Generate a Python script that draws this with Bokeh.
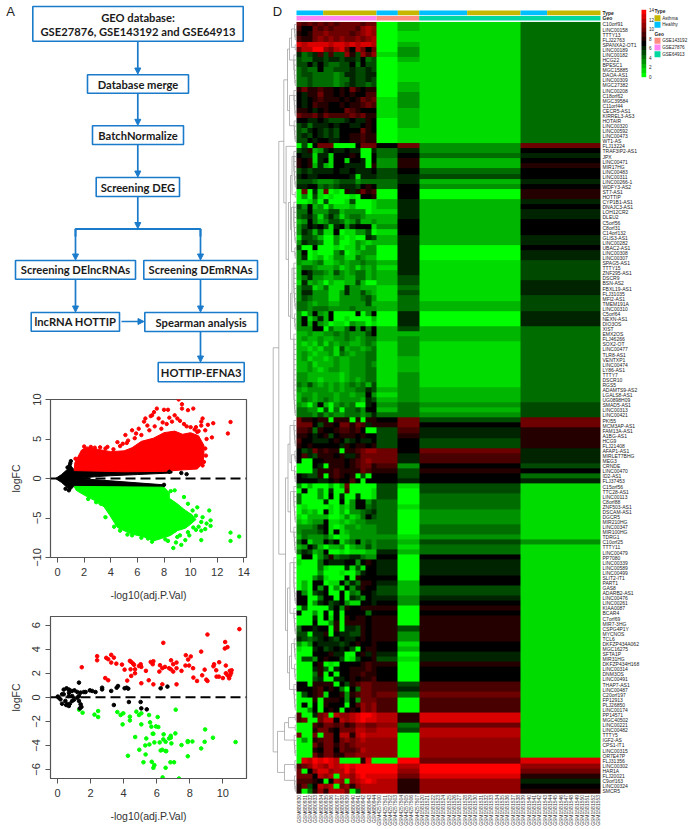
from bokeh.plotting import figure
from bokeh.layouts import row, column
from bokeh.models import Range1d, FixedTicker, Label, Span, LinearColorMapper, Arrow, NormalHead
from bokeh.core.properties import value
from bokeh.embed import file_html
from bokeh.resources import INLINE
import numpy as np, math

# ---------- panel A ----------
BOX_TEXT = ["GEO database:\nGSE27876, GSE143192 and GSE64913", "Database merge", "BatchNormalize", "Screening DEG",
            "Screening DElncRNAs", "Screening DEmRNAs", "lncRNA HOTTIP", "Spearman analysis", "HOTTIP-EFNA3"]
BOX_L = [32.3, 87, 92, 95.7, 15, 143.3, 30.7, 144.3, 157.7]
BOX_R = [242.7, 188, 183, 179, 135, 257, 119, 257, 243.7]
BOX_T = [6, 74.3, 125.3, 177, 260, 260, 312, 312, 362]
BOX_B = [40.7, 92.7, 144, 196, 278.7, 278.7, 330.7, 331, 381.3]
ARR = [(137.3,41,73.5),(137.3,92.7,124.8),(137.3,144,176.5),(137.3,196,228),(75,228.5,259.5),(200,228.5,259.5),
       (75,279,311.5),(200,279,311.5),(200,331,361.5)]

# ---------- panel B (logFC vs -log10 adj.P) ----------
B_RED_X = [1.25,1.3,1.8,2.2,3,4,5,5.6,6.3,7.2,8,8.8,9.4,10,10.6,11,11,10.9,10.5,9.5,8,5]
B_RED_Y = [1.0,2.0,3.6,4.0,3.7,3.4,3.5,3.9,4.7,5.1,5.8,6,5.6,5.8,5.4,4.2,2.8,1.9,1.2,1.1,.9,.85]
B_GREEN_X = [1.25,8,8.4,8.4,9,9.5,10.1,10.4,10,9.6,9,8.5,7.8,7.2,6.5,5.5,4.5,3.9,3.5,2.8,2,1.4]
B_GREEN_Y = [-1,-1.1,-1.8,-2.5,-3.2,-3.9,-4.6,-5.2,-5.8,-6.3,-6.6,-7.2,-7.6,-7.9,-7.4,-7,-6.2,-4.6,-3.6,-2.8,-2.1,-1.5]
B_FUNNEL_X = [-.15,.3,.7,1.0,1.25,1.25,.95,.7,.3]
B_FUNNEL_Y = [0,.5,1.1,1.6,1.1,-.95,-1.5,-1.1,-.5]
B_UP_X = [1.2,8.6,8.6,6,4,3,2,1.2]
B_UP_Y = [1,.95,.7,.5,.35,.25,.1,-.1]
B_LO_X = [1.2,8,8,6,4,2,1.2]
B_LO_Y = [-1,-1.1,-.8,-.55,-.3,-.05,.1]
B_RED_PX = [9.1,9.35,9.35,9.8,10.2,7.46,7.25,8,8.3,6.6,7,7.1,7.6,8.4,8.8,9,10.9,10.8,11.3,11.7,13,12.8,11.6,11.2,11.1,10.8,10.4,10,5.1,5.6,5.9,6.1,6.5,6.75,4.9,4.5,3.75,11.1,11.15,11,10.9,2,2.5,1.35,1.7,7.9,8.2,8.6,9.5,9.7,6.9,7.3,7.8,6.3,5.3,5.8,4.7,5.2,10.3,10.6,9.2,10.5,3.2,2.8,3.6,4.2]
B_RED_PY = [10,9.4,8.85,8.65,8.85,8.85,8.4,8.7,8.7,7.6,7.9,8,7.6,7.7,8,7.6,7.6,7.2,6.8,7,7.15,5.7,5.2,5,6.1,6.7,6.5,6.5,5.5,6.1,5.7,6.3,7.2,6.7,4.4,4.6,4,3.8,2.9,2.1,1.65,4.05,4,2.5,2.7,7.1,6.9,7.2,6.9,6.6,6.1,6.6,6.3,5.5,4.8,5.1,4.1,4.5,6.2,6,7.3,5.9,3.95,3.9,3.8,3.7]
B_GREEN_PX = [8.7,9.3,8.9,10.8,9.6,13,13,13.65,11.4,11.5,11.5,11.1,10.8,10.5,10.15,9.5,9.8,8.8,8.5,2.3,3.25,3.9,4.25,5.25,10.8,10,10.4,8.8,8.3,7.1,9.2,9.8,10.2,10.9,11.2,9,9.4,8.1,6.8,6.3,5.6,4.7,3.6,2.9,10.6,10.4,9.9,8.6]
B_GREEN_PY = [-8.8,-8.4,-8.1,-7.8,-7.8,-6.85,-7.9,-7.35,-4.05,-5.3,-6,-6.4,-6.6,-3.65,-4.05,-2.35,-3.2,-1.5,-1.6,-2.6,-3.2,-4,-6.1,-7.1,-5.5,-4.7,-4.7,-6.6,-7.9,-8,-7.2,-6.8,-6.2,-4.9,-5.7,-7.4,-5.4,-7.7,-7.6,-7.5,-7.2,-6.6,-4.9,-3,-6.1,-6.5,-7.2,-5.9]
B_BLACK_PX = [1,.95,.85,9.3,9.7,8,.9,.75,8.4,.6]
B_BLACK_PY = [2.2,1.9,-1.5,.7,.55,-.8,1.6,1.4,.85,-1.3]

# ---------- panel C ----------
C_RED_X = [1.47,2.4,2.4,2.95,3.07,3.25,3.41,3.25,3.56,3.9,4.06,4.38,4.46,4.57,4.63,4.42,4.69,4.69,4.46,4.22,2.89,3.07,4.93,5.03,5.07,5.35,5.64,5.8,5.76,5.07,5.52,5.8,6.2,6.16,6.4,6.34,6.5,6.34,6.75,6.87,6.85,7,7,7.2,7.2,7.2,7.5,7.76,7.74,7.9,7.96,8.06,8.2,8.22,8.44,8.69,8.75,8.9,9,9.07,9.07,9.47,9.43,9.6,9.62,9.78,9.76,10,10.14,10.12,10.28,10.18,10.18,10.28,10.42,10.44,10.38,10.5,10.53,11]
C_RED_Y = [2.5,3.42,3.08,3.28,3.17,3.53,3.3,2.89,2.8,2.72,2.3,3.03,2.94,2.8,2.7,2.33,2.33,2,1.78,1.39,1.6,1.42,2.6,2.75,2.53,2.2,2.94,3,2.75,1.17,1.42,1.08,2.67,2.14,4.53,2.42,2.53,1.08,2.42,3.08,2.33,2.75,2.14,2.89,2.42,1.08,2.2,3.5,2.64,3.14,2.64,3.4,2.42,1.64,1.36,3.8,1.83,2.3,1.47,5.22,1.36,2.75,2.58,2.25,1.72,2.92,1.72,1.6,4.6,4.06,4.17,2.64,2,1.83,2.2,1.83,1.58,2.03,2.25,5.67]
C_BLACK_X = [.02,.28,.38,.55,.7,.87,1.03,1.2,1.3,1.4,1.6,1.7,1.96,2.1,2.3,2.7,2.7,3.25,3.58,3.66,4.06,4.18,4.28,6.24,6.65,3.41,4.32,5.03,5.07,5.4,.08,.18,.28,.48,.58,.69,.53,.75,.89,1,1.3,1.4,1.45,1.35,.69,.89,1.2,1.3,.7,.38]
C_BLACK_Y = [.06,.25,.64,.75,.64,.53,.58,.44,1.22,.39,.44,.44,.58,.53,.44,.8,.66,.53,.8,.94,.75,.8,.72,.75,.89,-.64,-.39,-.39,-.92,-1,-.03,-.17,-.53,-.3,-.58,-.72,-.64,-.53,-.3,-.2,-.3,-.58,-.8,-.92,.11,.11,-.03,.11,.39,.25]
C_GREEN_X = [1.31,1.52,2.46,2.24,2.46,3.62,3.82,3.98,3.94,4.38,4.38,4.77,4.93,5.07,5.54,5.07,5.6,5.68,6.06,5.96,6.1,7.15,4.7,5.37,5.76,5.8,6.42,6.75,6.85,6.85,7.13,6.4,6.54,6.18,5.86,5.56,5.31,6.89,7.5,7.88,7.88,8.16,8.69,8.93,8.9,9.4,10.77,4.26,4.95,5.33,5.2,5.7,5.86,5.8,6.24,6.34,6.54,6.58,6.54,6.83,7.05,7.88,6.36,7.35]
C_GREEN_Y = [-1.03,-1.28,-1.14,-1.44,-1.64,-1.22,-1.47,-1.33,-2.25,-1.61,-1.92,-1.19,-1.47,-1.33,-1.47,-2.25,-2.08,-2.44,-1.64,-2.42,-2.47,-1.03,-3.3,-3.42,-3.03,-3.03,-3.08,-3.42,-3.2,-3.36,-3,-3.5,-3.7,-3.75,-3.75,-3.92,-4,-3.83,-3.97,-3.64,-3.72,-3.67,-4.25,-2.67,-3.7,-3.36,-3.72,-4.86,-4.36,-4.75,-5.4,-5.36,-5.64,-5.86,-4.42,-4.36,-4.47,-4.47,-5.86,-5.4,-5.4,-4.9,-6.66,-6.75]

# ---------- panel D : heat map ----------
GENES = """C10orf91 LINC00158 TTTY13 FLJ22763 SPANXA2-OT1 LINC00189 LINC00182 HCG22 BPESC1 MGC15885 DAOA-AS1 LINC00309 MGC27382 LINC00208 C18orf62 MGC39584 C11orf44 CECR5-AS1 KIRREL3-AS3 HOTAIR LINC00320 LINC00592 LINC00473 WT1-AS FLJ13224 TRAF3IP2-AS1 JPX LINC00471 MIR17HG LINC00483 LINC00311 LINC00266-1 WDFY3-AS2 ST7-AS1 HOTTIP CYP1B1-AS1 DNAJC3-AS1 LOH12CR2 DLEU2 C5orf56 C8orf31 C14orf132 GLIS3-AS1 LINC00282 UBAC2-AS1 LINC00308 LINC00307 SPAG5-AS1 TTTY15 ZNF295-AS1 DSCR9 BSN-AS2 FBXL19-AS1 FLJ31035 MFI2-AS1 TMEM191A LINC00310 C5orf64 NEXN-AS1 DIO3OS XIST EMX2OS FLJ46266 SOX2-OT LINC00477 TLR8-AS1 VENTXP1 LINC00474 LY86-AS1 TTTY7 DSCR10 RGS5 ADAMTS9-AS2 LGALS8-AS1 UG0898H09 SMAD5-AS1 LINC00313 LINC00421 PKI55 MCM3AP-AS1 FAM13A-AS1 A1BG-AS1 HCG9 FLJ21408 AFAP1-AS1 MIRLET7BHG MEG3 CRNDE LINC00470 ID2-AS1 FLJ37453 C15orf56 TTC28-AS1 LINC00113 C8orf88 ZNF503-AS1 DSCAM-AS1 DGCR5 MIR210HG LINC00347 MIR100HG TDRG1 C10orf25 TTTY11 LINC00479 PP7080 LINC00339 LINC00589 LINC00499 SLIT2-IT1 PART1 GAS8 ADARB2-AS1 LINC00476 LINC00261 KIAA0087 BCAR4 C7orf69 MIR7-3HG CSPG4P1Y MYCNOS TCL6 DKFZP434A062 MGC16275 SFTA1P MIR31HG DKFZP434H168 LINC00314 DNM3OS LINC00491 THAP7-AS1 LINC00487 C20orf197 FP12913 PLJ26850 LINC00174 PP14571 MGC40502 LINC00221 LINC00482 TTTY5 IGF2-AS CPS1-IT1 LINC00315 OR7E47P FLJ31356 LINC00302 HAR1A FLJ20021 C9orf163 LINC00324 SMCR5""".split()

# levels 0-14 written as one base-15 digit, one string per gene, 15 GSE27876 samples
CELLS_GSE27876 = """a9a9a9a9aaaa9aa 977a9a9aaaa9bcb 878aabaaaa9abcb 988abababaababc dcddddcddcdcddc acceebacda7ca7a 645695955b85b9b 544665665665745
557575445574755 454474455565565 455444434665566 445444434465565 445444434565545 8a88988787a8788 7688a8878787799 767898887878a9a
7679887787889a9 887678777a98777 a99a8a9999a9a88 776676555676687 564666767766787 546765657777a87 565765657788988 557677667788988
0507aaa00007aaa 568236766766006 766166177787007 878167177177607 878262177666608 565666676676667 676677777761666 555433345553444
667745456665787 0a061a010868a89 030510100010778 001305000150001 537230311120001 447333552333301 456414641344322 237423554235223
357675167367771 365251170113350 155420031010065 365540030013212 500700010113133 370100035012333 360120133114322 322341123233433
244322231231323 276443253234423 246332233224423 162320211225200 355124111633222 366333113633532 354333113333453 443233223333352
443444333343333 303732700007037 371362700100002 372732011032201 333770422473747 223223343433357 232232233432344 212131323322343
221213315233234 232122314323344 231221232233344 223122232233343 223212332233344 332222221233344 332212221232344 435323232343425
323333232334465 233233323323373 243234323333265 320372034340067 443305040445377 444353433444346 a88788088808088 aaa75887aa8a968
998487789989700 887678578887877 977666787567667 878777776878878 756a89880889abb 796588878668aaa 700778888789aba 000760888789aa8
000588898888a98 765580898780507 777766787797077 302000202a00000 070030600900001 400030706006001 400006007037735 010000102137745
021207102033456 102222001312475 212337112123344 333467101332333 344457171233333 243334201133333 471337571347343 237520223023353
465237001011122 077035845566433 100047666773787 000041000615177 000030001003677 000351000708777 020770117364887 020737030736877
730567007043776 770047707065376 770367567311776 050000573877888 700307070777747 000607170878878 000700380888878 477677080665878
550668076655878 654567657667878 313766665678778 100675676750788 000777866007868 055378775015778 000780107777898 000685067788898
000480707788988 000560066787889 770888807589aa9 777897874074aa9 057891778389aa9 000808887373aaa 070708777079bab 003707870787bab
9006ab0cbbcdeed 9a00acc7cbcdedd 00098aa9a89bbaa 0008aa87aaaccbb a00a0aa7cc8cdcc 03089aa7ababcbb 000a8aa8a9abbbb 00087aa7a99acbb
000a8aa88aabbbb 0dcededc00008d0 9abdcbdcdedeeee a07bddbcceceeee aaa7cbc0ccbdedd 9998707cb0bcded 8a57cbc0ab8bccc 8048b8ccca05ccc""".split()

# four blocks of GSE143192 and GSE64913 samples, one level per block: healthy143 / asthma143 / first64 / last64
BLOCK_LEVELS = """0214 0214 0114 0114 0214 0314 1314 0214 0114 0114 0114 0114 0214 0214 0314 1314 1314 1214 1214 0214 0214 0114 0114 0114
7a3a 4637 4746 3827 3828 5747 5657 4626 4737 0708 0708 2626 2627 1626 2626 2727 3727 1727 2626 2626 0607 0606 0606 2615 1615 2615 2515
2516 1416 1516 1415 2425 2425 0606 0606 0606 2524 2224 2324 1314 1314 1314 1214 1214 1214 1314 1314 1314 2324 1324 2324 3435 2425 4435
7a5a 8a7a 5968 5868 5758 5758 a7a6 a696 a696 9375 8587 7574 7676
5151 5051 5041 4041 4141 4031 4031 4031 4041 4041 3131 4253 4141 6241 7071 6061 6061 6061 7071 6271 5251 5251 6361 7371 8081 7071 8081 8081 8581
8381 8381 7171 7271 6061 5161 8081 7071 7071 7071 9591 9691 a4a1 9091 9091 9091 c8d1 c8d1 b4a1 c5c1 c0c1 b0b1 b0b1 b0b1 b0b1 0ead eceb ebea dad8 c8b6 c8b7 c8b8""".split()

BLOCK_SIZES = [15, 4, 4, 19, 15]
TYPE_RUNS = [("Healthy",5),("Asthma",10),("Healthy",4),("Asthma",4),("Healthy",9),("Asthma",10),("Healthy",5),("Asthma",10)]
GEO_RUNS = [("GSE27876",15),("GSE143192",8),("GSE64913",34)]
TYPE_COLORS = {"Asthma":"#C6B700","Healthy":"#00BFFF"}
GEO_COLORS = {"GSE143192":"#FF8C80","GSE27876":"#FF85F5","GSE64913":"#00D8A0"}
SCALE_TICKS = [0,2,4,6,8,10,12,14]
SAMPLES = """GSM680930 GSM680931 GSM680932 GSM680933 GSM680934 GSM680935 GSM680936 GSM680937 GSM680938 GSM680939 GSM680940 GSM680941 GSM680942 GSM680943 GSM680944
GSM4257500 GSM4257501 GSM4257502 GSM4257503 GSM4257504 GSM4257505 GSM4257506 GSM4257507
GSM1581520 GSM1581521 GSM1581522 GSM1581523 GSM1581524 GSM1581525 GSM1581526 GSM1581527 GSM1581528 GSM1581529 GSM1581530 GSM1581531 GSM1581532 GSM1581533 GSM1581534 GSM1581535 GSM1581536 GSM1581537 GSM1581538
GSM1581539 GSM1581540 GSM1581541 GSM1581542 GSM1581543 GSM1581544 GSM1581545 GSM1581546 GSM1581547 GSM1581548 GSM1581549 GSM1581550 GSM1581551 GSM1581552 GSM1581553""".split()

PAL = ["#%02X%02X00" % (0, round(255*(7-i)/7)) for i in range(8)] + ["#%02X0000" % round(255*i/7) for i in range(1,8)]
FONT = "Liberation Sans"
def Y(px): return 829 - px

# ---------- A ----------
a = figure(width=270, height=386, x_range=Range1d(0,270), y_range=Range1d(Y(386),Y(0)), x_axis_type=None, y_axis_type=None,
           toolbar_location=None, output_backend="svg", min_border=0, outline_line_color=None, frame_align=False)
a.grid.visible = False
BLUE = "#1B7BCB"
a.quad(left=BOX_L, right=BOX_R, top=[Y(v) for v in BOX_T], bottom=[Y(v) for v in BOX_B], fill_color="white", line_color=BLUE, line_width=1.6)
a.line([75,75,200,200],[Y(236),Y(228.5),Y(228.5),Y(236)], line_color=BLUE, line_width=2)
for xx,y0,y1 in ARR:
    a.add_layout(Arrow(end=NormalHead(size=6, fill_color=BLUE, line_color=BLUE), x_start=xx, y_start=Y(y0), x_end=xx, y_end=Y(y1), line_color=BLUE, line_width=1.7))
a.add_layout(Arrow(end=NormalHead(size=6, fill_color=BLUE, line_color=BLUE), x_start=121, y_start=Y(321), x_end=143.5, y_end=Y(321), line_color=BLUE, line_width=1.7))
cx = [(l+r)/2 for l,r in zip(BOX_L,BOX_R)]
cy = [Y((t+b)/2) for t,b in zip(BOX_T,BOX_B)]
a.text(x=cx[1:], y=cy[1:], text=BOX_TEXT[1:], text_align="center", text_baseline="middle", text_font=value("Lato"), text_font_style="bold", text_font_size="11.2px", text_color="#1a1a1a")
for t,yy in zip(BOX_TEXT[0].split("\n"), [16.5, 31]):
    a.text(x=[137.5], y=[Y(yy)], text=[t], text_align="center", text_baseline="middle", text_font=value("Lato"), text_font_style="bold", text_font_size="11.2px", text_color="#1a1a1a")
a.text(x=[10], y=[Y(10.5)], text=["A"], text_align="center", text_baseline="middle", text_font=value(FONT), text_font_size="13px", text_color="#222222")

# ---------- shared R-style axes ----------
def volcano(h, mb_top, mb_bottom, xr, yr, xt, yt):
    p = figure(width=270, height=h, x_range=Range1d(*xr), y_range=Range1d(*yr), toolbar_location=None, output_backend="svg",
               min_border_left=50, min_border_right=24, min_border_top=mb_top, min_border_bottom=mb_bottom, frame_align=False,
               outline_line_color="#555555", outline_line_width=1.2, x_axis_label="-log10(adj.P.Val)", y_axis_label="logFC")
    p.grid.visible = False
    for ax,t in ((p.xaxis[0],xt),(p.yaxis[0],yt)):
        ax.ticker = FixedTicker(ticks=t)
        ax.major_tick_in = 0; ax.major_tick_out = 5; ax.minor_tick_out = 0; ax.minor_tick_in = 0
        ax.major_tick_line_color = "#555555"; ax.axis_line_color = "#555555"
        ax.major_label_text_font = FONT; ax.major_label_text_font_size = "11px"; ax.major_label_text_color = "#333333"
        ax.axis_label_text_font = FONT; ax.axis_label_text_font_size = "10.5px"; ax.axis_label_text_font_style = "normal"; ax.axis_label_text_color = "#333333"
    p.xaxis[0].axis_label_standoff = 10; p.xaxis[0].major_label_standoff = 5
    p.yaxis[0].major_label_orientation = "vertical"; p.yaxis[0].axis_label_standoff = 8; p.yaxis[0].major_label_standoff = 5
    return p

b = volcano(217, 13, 46, (-.53,14.2), (-10,10), [0,2,4,6,8,10,12,14], [-10,-5,0,5,10])
b.patch(B_FUNNEL_X, B_FUNNEL_Y, color="black")
b.patch(B_UP_X, B_UP_Y, color="black")
b.patch(B_LO_X, B_LO_Y, color="black")
b.patch(B_RED_X, B_RED_Y, color="#FF0000")
b.patch(B_GREEN_X, B_GREEN_Y, color="#00FF00")
b.scatter(B_RED_PX, B_RED_PY, size=3.4, color="#FF0000")
b.scatter(B_GREEN_PX, B_GREEN_PY, size=3.4, color="#00FF00")
b.scatter(B_BLACK_PX, B_BLACK_PY, size=3.4, color="black")
b.add_layout(Span(location=0, dimension="width", line_color="black", line_width=2, line_dash="10 5"))
b.add_layout(Label(x=-3.25, y=9.9, text="B", text_font=FONT, text_font_size="13px", text_color="#222222", text_baseline="middle", text_align="center"))

c = volcano(226, 13, 51, (-.42,11.43), (-6.75,6.72), [0,2,4,6,8,10], [-6,-4,-2,0,2,4,6])
c.scatter(C_RED_X, C_RED_Y, size=3.6, color="#FF0000")
c.scatter(C_GREEN_X, C_GREEN_Y, size=3.6, color="#00FF00")
c.scatter(C_BLACK_X, C_BLACK_Y, size=3.6, color="black")
c.add_layout(Span(location=0, dimension="width", line_color="black", line_width=2, line_dash="10 5"))
c.add_layout(Label(x=-2.85, y=6.4, text="C", text_font=FONT, text_font_size="13px", text_color="#222222", text_baseline="middle", text_align="center"))

# ---------- D ----------
d = figure(width=419, height=829, x_range=Range1d(270,689), y_range=Range1d(Y(829),Y(0)), x_axis_type=None, y_axis_type=None,
           toolbar_location=None, output_backend="svg", min_border=0, outline_line_color=None, frame_align=False)
d.grid.visible = False
n = len(GENES); ncol = sum(BLOCK_SIZES)
HM_L, HM_W = 296.0, 304.0
HM_T, HM_B = 21.46, 793.2
rh = (HM_B-HM_T)/n; cw = HM_W/ncol
arr = np.zeros((n,ncol))
for i,(s,lv) in enumerate(zip(CELLS_GSE27876, BLOCK_LEVELS)):
    vals = [int(ch,15) for ch in s]
    vals += [int(lv[0],15)]*4 + [int(lv[1],15)]*4 + [int(lv[2],15)]*19 + [int(lv[3],15)]*15
    arr[i,:] = vals
mapper = LinearColorMapper(palette=PAL, low=-.5, high=14.5)
d.image(image=[arr[::-1]], x=HM_L, y=Y(HM_B), dw=HM_W, dh=HM_B-HM_T, color_mapper=mapper)

def runs(rs, colors, top, bot):
    pos = 0
    L,R,C = [],[],[]
    for name,k in rs:
        L.append(HM_L+pos*cw); R.append(HM_L+(pos+k)*cw); C.append(colors[name]); pos += k
    d.quad(left=L,right=R,top=Y(top),bottom=Y(bot),fill_color=C,line_color=None)
runs(TYPE_RUNS, TYPE_COLORS, 10, 14.8)
runs(GEO_RUNS, GEO_COLORS, 15.4, 20)

lab = dict(text_font=value(FONT), text_baseline="middle", text_color="#222222")
d.text(x=[602]*n, y=[Y(HM_T+rh*(i+.5)) for i in range(n)], text=GENES, text_font_size="5px", **lab)
d.text(x=[602,602], y=[Y(12.3),Y(17.7)], text=["Type","Geo"], text_font_size="5px", text_font_style="bold", **lab)
d.text(x=[HM_L+cw*(i+.5) for i in range(ncol)], y=[Y(794.5)]*ncol, text=SAMPLES, angle=math.pi/2, text_align="right",
       text_font=value(FONT), text_baseline="middle", text_color="#333333", text_font_size="5px")

# legend (colour scale, keys)
levels = np.arange(15).reshape(15,1)
d.image(image=[levels], x=641, y=Y(76.7), dw=4.7, dh=67.4, color_mapper=mapper)
d.text(x=[648.5]*8, y=[Y(76.3-t*66.6/14) for t in SCALE_TICKS], text=[str(t) for t in SCALE_TICKS], text_font_size="4.6px", **lab)
d.text(x=[654,654], y=[Y(11.3),Y(34)], text=["Type","Geo"], text_font_size="4.8px", text_font_style="bold", **lab)
KEY_T = [14.7,21.3,37.3,44,50.7]
KEY_TXT = ["Asthma","Healthy","GSE143192","GSE27876","GSE64913"]
KEY_COL = [TYPE_COLORS["Asthma"],TYPE_COLORS["Healthy"],GEO_COLORS["GSE143192"],GEO_COLORS["GSE27876"],GEO_COLORS["GSE64913"]]
d.quad(left=654,right=660,top=[Y(v) for v in KEY_T],bottom=[Y(v+6) for v in KEY_T],fill_color=KEY_COL,line_color=None)
d.text(x=[661.7]*5,y=[Y(v+3) for v in KEY_T],text=KEY_TXT,text_font_size="4.6px",**lab)
d.text(x=[277],y=[Y(10.5)],text=["D"],text_align="center",text_baseline="middle",text_font=value(FONT),text_font_size="13px",text_color="#222222")

# dendrogram: [height, child, child]; integers are leaves
def comb(a_,b_):
    if a_==b_: return a_
    return [295-1.6*min(1,(b_-a_)/5), a_, comb(a_+1,b_)]
TREE = [272.7,
  [278.3,
    [283.3,
      [287,[289,[291,comb(0,3),comb(4,5)],comb(6,12)],[289,comb(13,18),comb(19,23)]],
      [285.6,24,[288,[290,[291.5,comb(25,32),comb(33,34)],[291,comb(35,43),comb(44,46)]],[290,[291.5,comb(47,56),comb(57,60)],comb(61,77)]]]],
    [285,
      [287.5,[289.5,comb(78,83),[291,comb(84,86),comb(87,90)]],[290,comb(91,98),comb(99,104)]],
      [287,[289.5,comb(105,114),comb(115,120)],[289,[291,comb(121,125),comb(126,129)],comb(130,135)]]]],
  [277,
    [284,[288,comb(136,137),comb(138,139)],comb(140,144)],
    [284,comb(145,147),comb(148,151)]]]
xs, ys = [], []
def walk(node):
    if isinstance(node,int):
        return 296.0, HM_T+rh*(node+.5)
    x0 = node[0]
    x1,y1 = walk(node[1]); x2,y2 = walk(node[2])
    xs.append([x1,x0,x0,x2]); ys.append([Y(y1),Y(y1),Y(y2),Y(y2)])
    return x0,(y1+y2)/2
walk(TREE)
d.multi_line(xs, ys, line_color="#9A9A9A", line_width=0.7)

layout = row(column(a,b,c,spacing=0), d, spacing=0)
open("out.html","w").write(file_html(layout, INLINE))
